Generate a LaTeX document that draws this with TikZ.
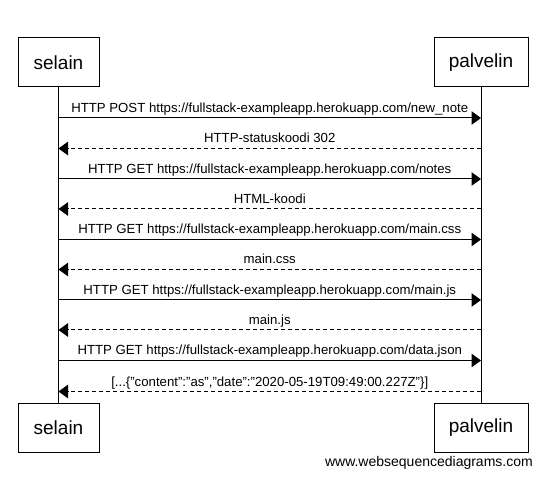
\documentclass[tikz,border=0pt]{standalone}
\usepackage{fontspec}
\setmainfont{Liberation Sans}
\usepackage{tikz}
\usetikzlibrary{arrows.meta}
\usetikzlibrary{positioning}

\begin{document}
\begin{tikzpicture}[x=1pt, y=-1pt,
    actor/.style={draw, line width=1pt, minimum height=49pt, inner sep=0pt,
      font=\fontsize{19}{22}\selectfont},
    msg/.style={line width=1pt, -{Triangle[length=9.5pt, width=13.5pt]}},
    reply/.style={msg, dash pattern=on 4pt off 3pt},
    lbl/.style={midway, anchor=base, yshift=5.5pt, inner sep=0pt,
      font=\fontsize{13.2}{15}\selectfont}]
  \useasboundingbox (0,0) rectangle (557,478);

  % Osallistujat
  \node[actor, minimum width=81pt] (selainA) at (58.5,62.5) {selain};
  \node[actor, minimum width=94pt] (palvelinA) at (481,62.5) {palvelin};
  \node[actor, minimum width=81pt] (selainB) at (58.5,428) {selain};
  \node[actor, minimum width=94pt] (palvelinB) at (481,428) {palvelin};

  % Elinviivat
  \draw[line width=1pt] (selainA.south) -- (selainB.north);
  \draw[line width=1pt] (palvelinA.south) -- (palvelinB.north);

  % Viestien paikat
  \foreach \i/\y in {1/118, 2/148.5, 3/179, 4/209, 5/239.5, 6/269.5, 7/300, 8/330, 9/360.5, 10/391.5}{
    \coordinate (s\i) at (selainA.south |- 0,\y);
    \coordinate (p\i) at (palvelinA.south |- 0,\y);
  }

  % Viestit
  \draw[msg] (s1) -- node[lbl] {HTTP POST https://fullstack-exampleapp.herokuapp.com/new\_note} (p1);
  \draw[reply] (p2) -- node[lbl] {HTTP-statuskoodi 302} (s2);
  \draw[msg] (s3) -- node[lbl] {HTTP GET https://fullstack-exampleapp.herokuapp.com/notes} (p3);
  \draw[reply] (p4) -- node[lbl] {HTML-koodi} (s4);
  \draw[msg] (s5) -- node[lbl] {HTTP GET https://fullstack-exampleapp.herokuapp.com/main.css} (p5);
  \draw[reply] (p6) -- node[lbl] {main.css} (s6);
  \draw[msg] (s7) -- node[lbl] {HTTP GET https://fullstack-exampleapp.herokuapp.com/main.js} (p7);
  \draw[reply] (p8) -- node[lbl] {main.js} (s8);
  \draw[msg] (s9) -- node[lbl] {HTTP GET https://fullstack-exampleapp.herokuapp.com/data.json} (p9);
  \draw[reply] (p10) -- node[lbl] {[...\{"content":"as","date":"2020-05-19T09:49:00.227Z"\}]} (s10);

  \node[anchor=base east, inner sep=0pt, font=\fontsize{14}{17}\selectfont] (merkki) at (533,466) {www.websequencediagrams.com};
\end{tikzpicture}
\end{document}
